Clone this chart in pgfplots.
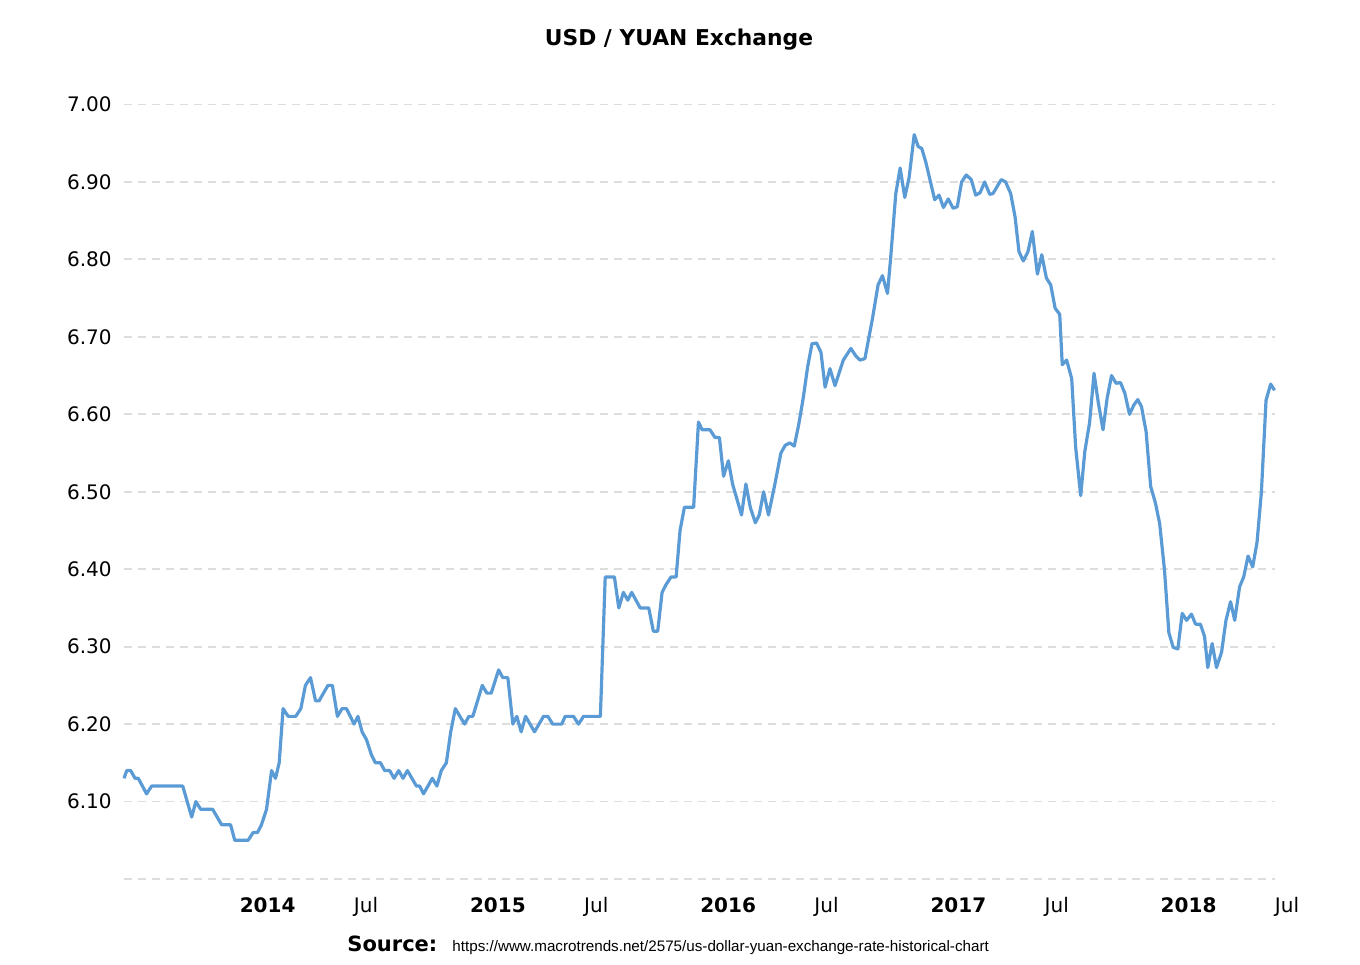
\documentclass[border=0pt]{standalone}
\usepackage{pgfplots}
\pgfplotsset{compat=1.18}
\usepackage{fontspec}
\setmainfont{DejaVu Sans}
\newfontfamily\urlfont{Liberation Sans}
\definecolor{linec}{HTML}{5B9BD5}
\definecolor{gridc}{HTML}{DDDDDD}
\begin{document}
\begin{tikzpicture}
\useasboundingbox (-62pt,-42.5pt) rectangle (618pt,439.5pt);
\begin{axis}[
  scale only axis, width=575.5pt, height=387.25pt,
  xmin=2013.499, xmax=2018.498, ymin=6, ymax=7,
  axis line style={draw=none},
  major tick length=0pt,
  xtick={2014,2014.496,2015,2015.496,2016,2016.496,2017,2017.496,2018,2018.496},
  xticklabels={\textbf{2014},Jul,\textbf{2015},Jul,\textbf{2016},Jul,\textbf{2017},Jul,\textbf{2018},Jul},
  xticklabel style={anchor=north west, inner sep=0pt, yshift=-9pt, font=\fontsize{10}{12}\selectfont},
  ytick={6.0,6.1,6.2,6.3,6.4,6.5,6.6,6.7,6.8,6.9,7.0},
  yticklabels={,6.10,6.20,6.30,6.40,6.50,6.60,6.70,6.80,6.90,7.00},
  yticklabel style={anchor=east, inner sep=0pt, xshift=-6pt, font=\fontsize{10}{12}\selectfont},
  ymajorgrids, grid style={gridc, dash pattern=on 4pt off 3pt, line width=0.9pt},
  clip=false,
]
\addplot[linec, line width=1.6pt, line join=round, mark=none] coordinates {
(2013.499,6.13) (2013.511,6.14) (2013.528,6.14) (2013.547,6.13) (2013.561,6.13)
(2013.597,6.11) (2013.619,6.12) (2013.754,6.12) (2013.793,6.08) (2013.811,6.10)
(2013.832,6.09) (2013.884,6.09) (2013.923,6.07) (2013.962,6.07) (2013.980,6.05)
(2014.038,6.05) (2014.060,6.06) (2014.079,6.06) (2014.096,6.07) (2014.118,6.09)
(2014.140,6.14) (2014.157,6.13) (2014.173,6.15) (2014.190,6.22) (2014.212,6.21)
(2014.245,6.21) (2014.267,6.22) (2014.287,6.25) (2014.309,6.26) (2014.331,6.23)
(2014.346,6.23) (2014.385,6.25) (2014.404,6.25) (2014.426,6.21) (2014.446,6.22)
(2014.465,6.22) (2014.482,6.21) (2014.498,6.20) (2014.515,6.21) (2014.533,6.19)
(2014.552,6.18) (2014.574,6.16) (2014.591,6.15) (2014.613,6.15) (2014.631,6.14)
(2014.653,6.14) (2014.672,6.13) (2014.692,6.14) (2014.711,6.13) (2014.730,6.14)
(2014.769,6.12) (2014.783,6.12) (2014.800,6.11) (2014.838,6.13) (2014.858,6.12)
(2014.877,6.14) (2014.899,6.15) (2014.918,6.19) (2014.938,6.22) (2014.978,6.20)
(2014.997,6.21) (2015.014,6.21) (2015.055,6.25) (2015.075,6.24) (2015.094,6.24)
(2015.126,6.27) (2015.144,6.26) (2015.166,6.26) (2015.188,6.20) (2015.205,6.21)
(2015.224,6.19) (2015.243,6.21) (2015.282,6.19) (2015.321,6.21) (2015.340,6.21)
(2015.361,6.20) (2015.400,6.20) (2015.415,6.21) (2015.451,6.21) (2015.473,6.20)
(2015.495,6.21) (2015.568,6.21) (2015.589,6.39) (2015.629,6.39) (2015.648,6.35)
(2015.668,6.37) (2015.687,6.36) (2015.704,6.37) (2015.741,6.35) (2015.778,6.35)
(2015.798,6.32) (2015.817,6.32) (2015.836,6.37) (2015.853,6.38) (2015.875,6.39)
(2015.897,6.39) (2015.914,6.45) (2015.933,6.48) (2015.973,6.48) (2015.994,6.59)
(2016.010,6.58) (2016.044,6.58) (2016.066,6.57) (2016.085,6.57) (2016.103,6.52)
(2016.124,6.54) (2016.142,6.51) (2016.181,6.47) (2016.200,6.51) (2016.219,6.48)
(2016.241,6.46) (2016.258,6.47) (2016.277,6.50) (2016.298,6.47) (2016.326,6.51)
(2016.352,6.55) (2016.371,6.56) (2016.391,6.563) (2016.410,6.559) (2016.429,6.586)
(2016.449,6.621) (2016.468,6.661) (2016.487,6.691) (2016.507,6.692) (2016.526,6.680)
(2016.544,6.635) (2016.565,6.659) (2016.587,6.637) (2016.623,6.670) (2016.656,6.685)
(2016.678,6.675) (2016.696,6.670) (2016.717,6.672) (2016.750,6.724) (2016.774,6.767)
(2016.793,6.779) (2016.815,6.756) (2016.829,6.803) (2016.851,6.885) (2016.870,6.918)
(2016.890,6.880) (2016.909,6.906) (2016.931,6.961) (2016.948,6.946) (2016.964,6.943)
(2016.981,6.926) (2017.020,6.877) (2017.039,6.883) (2017.058,6.867) (2017.079,6.878)
(2017.100,6.866) (2017.118,6.868) (2017.137,6.900) (2017.157,6.909) (2017.179,6.903)
(2017.198,6.883) (2017.217,6.886) (2017.237,6.900) (2017.259,6.884) (2017.273,6.885)
(2017.309,6.903) (2017.328,6.900) (2017.350,6.885) (2017.369,6.855) (2017.386,6.810)
(2017.405,6.798) (2017.425,6.810) (2017.444,6.836) (2017.466,6.781) (2017.485,6.806)
(2017.505,6.776) (2017.524,6.767) (2017.543,6.737) (2017.563,6.729) (2017.574,6.664)
(2017.593,6.670) (2017.615,6.646) (2017.632,6.558) (2017.654,6.495) (2017.672,6.552)
(2017.693,6.590) (2017.712,6.653) (2017.730,6.616) (2017.751,6.580) (2017.769,6.621)
(2017.788,6.650) (2017.808,6.640) (2017.827,6.641) (2017.846,6.627) (2017.866,6.600)
(2017.885,6.612) (2017.902,6.619) (2017.918,6.610) (2017.938,6.578) (2017.958,6.507)
(2017.979,6.485) (2017.997,6.459) (2018.018,6.399) (2018.037,6.318) (2018.056,6.299)
(2018.076,6.297) (2018.095,6.343) (2018.114,6.334) (2018.135,6.342) (2018.153,6.329)
(2018.174,6.329) (2018.192,6.313) (2018.206,6.273) (2018.225,6.304) (2018.244,6.273)
(2018.266,6.293) (2018.285,6.334) (2018.305,6.358) (2018.323,6.334) (2018.344,6.377)
(2018.362,6.390) (2018.381,6.417) (2018.401,6.403) (2018.420,6.435) (2018.439,6.500)
(2018.459,6.618) (2018.479,6.639) (2018.496,6.631)
};
\end{axis}
\node[font=\fontsize{10.9}{13}\selectfont\bfseries] at (277.5pt,419.5pt) {USD / YUAN Exchange};
\node[anchor=base west, inner sep=0pt, font=\fontsize{10.5}{12}\selectfont\bfseries] at (111.5pt,-36pt) {Source:};
\node[anchor=base west, inner sep=0pt, font=\urlfont\fontsize{7.6}{9}\selectfont] at (164pt,-36pt) {https://www.macrotrends.net/2575/us-dollar-yuan-exchange-rate-historical-chart};
\end{tikzpicture}
\end{document}
